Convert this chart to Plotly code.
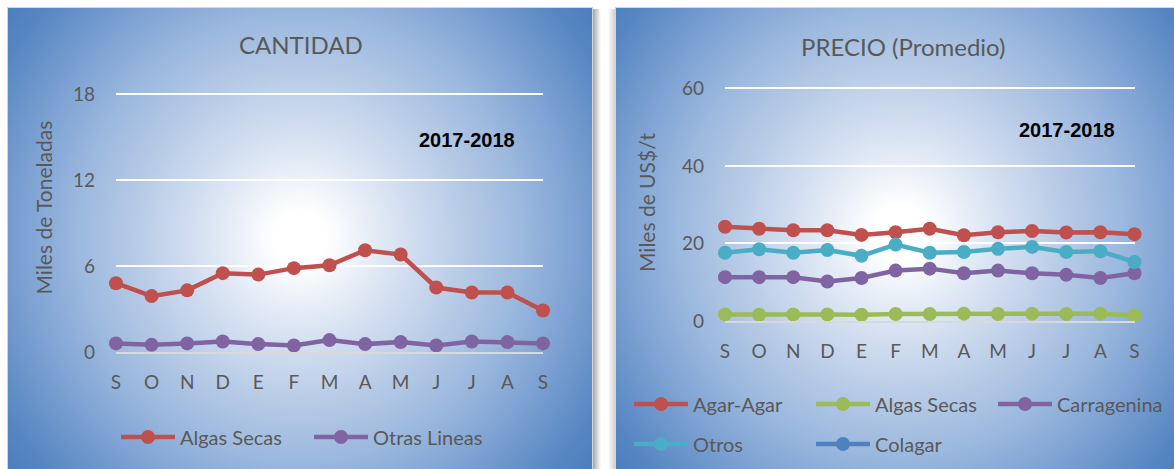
import base64
import plotly.graph_objects as go

W, H = 1174, 469

# ---------------- data ----------------
months = ["S", "O", "N", "D", "E", "F", "M", "A", "M", "J", "J", "A", "S"]

cant_algas_secas = [4.8, 3.9, 4.3, 5.5, 5.4, 5.85, 6.05, 7.1, 6.8, 4.5, 4.15, 4.15, 2.9]
cant_otras_lineas = [0.6, 0.5, 0.6, 0.73, 0.55, 0.45, 0.83, 0.55, 0.69, 0.45, 0.73, 0.69, 0.6]

prec_agar_agar = [24.3, 23.8, 23.4, 23.4, 22.2, 22.9, 23.8, 22.1, 22.9, 23.2, 22.8, 22.9, 22.4]
prec_algas_secas = [1.7, 1.6, 1.7, 1.7, 1.6, 1.8, 1.8, 1.9, 1.8, 1.9, 1.8, 1.9, 1.5]
prec_carragenina = [11.3, 11.3, 11.3, 10.2, 11.1, 13.0, 13.5, 12.3, 13.0, 12.3, 11.9, 11.1, 12.3]
prec_otros = [17.6, 18.5, 17.6, 18.3, 16.8, 19.7, 17.6, 17.8, 18.6, 19.1, 17.8, 18.0, 15.2]
prec_colagar = [None] * 13

yticks_cant = [0, 6, 12, 18]
yticks_prec = [0, 20, 40, 60]

# ---------------- colours / fonts ----------------
RED, PURPLE, GREEN, CYAN, BLUE = "#C0504D", "#8064A2", "#9BBB59", "#4BACC6", "#4F81BD"
TXT = "#595959"
FONT = "Lato"

xs = list(range(len(months)))

# ---------------- background (radial gradients) ----------------
stops = [(0, "#ffffff"), (0.07, "#ffffff"), (0.25, "#dae4f3"), (0.45, "#b6cae6"),
         (0.6, "#9bb8de"), (0.75, "#7ca1d2"), (0.92, "#5686c2"), (1, "#4d7ebd")]
stop_xml = "".join(f"<stop offset='{o}' stop-color='{c}'/>" for o, c in stops)
svg = f"""<svg xmlns='http://www.w3.org/2000/svg' width='{W}' height='{H}' viewBox='0 0 {W} {H}'>
<defs>
<radialGradient id='g1' gradientUnits='userSpaceOnUse' cx='300' cy='238' r='372'>{stop_xml}</radialGradient>
<radialGradient id='g2' gradientUnits='userSpaceOnUse' cx='900' cy='232' r='372'>{stop_xml}</radialGradient>
<linearGradient id='sh' x1='0' x2='1' y1='0' y2='0'><stop offset='0' stop-color='#9a9a9a'/><stop offset='1' stop-color='#ffffff'/></linearGradient>
<linearGradient id='sh2' x1='0' x2='1' y1='0' y2='0'><stop offset='0' stop-color='#ffffff'/><stop offset='1' stop-color='#d0d0d0'/></linearGradient>
</defs>
<rect x='0' y='0' width='{W}' height='{H}' fill='#ffffff'/>
<rect x='592' y='9' width='9' height='470' fill='url(#sh)'/>
<rect x='608' y='9' width='7' height='470' fill='url(#sh2)'/>
<rect x='7.5' y='7.5' width='585' height='475' fill='url(#g1)' stroke='#d4d4d4' stroke-width='1'/>
<rect x='615.5' y='7.5' width='575' height='475' fill='url(#g2)' stroke='#d4d4d4' stroke-width='1'/>
</svg>"""
bg_uri = "data:image/svg+xml;base64," + base64.b64encode(svg.encode()).decode()


def px_x(p):
    return p / W


def px_y(p):
    return 1 - p / H


fig = go.Figure()


def add_line(x, y, name, color, xa, ya, legend):
    fig.add_trace(go.Scatter(
        x=x, y=y, name=name, mode="lines+markers",
        line=dict(color=color, width=4.5),
        marker=dict(color=color, size=14),
        xaxis=xa, yaxis=ya, legend=legend, cliponaxis=False,
        hoverinfo="x+y+name",
    ))


add_line(xs, cant_algas_secas, "Algas Secas", RED, "x", "y", "legend")
add_line(xs, cant_otras_lineas, "Otras Lineas", PURPLE, "x", "y", "legend")

add_line(xs, prec_agar_agar, "Agar-Agar", RED, "x2", "y2", "legend2")
add_line(xs, prec_algas_secas, "Algas Secas", GREEN, "x2", "y2", "legend2")
add_line(xs, prec_carragenina, "Carragenina", PURPLE, "x2", "y2", "legend2")
add_line(xs, prec_otros, "Otros", CYAN, "x2", "y2", "legend3")
add_line(xs, prec_colagar, "Colagar", BLUE, "x2", "y2", "legend3")

xaxis_common = dict(
    range=[0, len(months) - 1], tickvals=xs, ticktext=months,
    showgrid=False, zeroline=False, showline=True, linecolor="#d9d9d9", linewidth=2,
    ticks="", tickfont=dict(family=FONT, size=19, color=TXT), ticklabelstandoff=12,
    fixedrange=True,
)
yaxis_common = dict(
    showgrid=True, gridcolor="#ffffff", gridwidth=1.6, zeroline=False, showline=False,
    ticks="", tickfont=dict(family=FONT, size=19, color=TXT), ticklabelstandoff=20,
    fixedrange=True,
)

legend_common = dict(
    orientation="h", xanchor="left", yanchor="middle", bgcolor="rgba(0,0,0,0)",
    font=dict(family=FONT, size=20, color=TXT), itemwidth=54,
    entrywidthmode="pixels", itemclick=False, itemdoubleclick=False,
)

# y ranges extended by 3 px above the top gridline so that it is drawn
pad = 3
y1_top_px, y1_bot_px = 94, 352
y2_top_px, y2_bot_px = 88.3, 321
y1_max = 18 + pad * 18 / (y1_bot_px - y1_top_px)
y2_max = 60 + pad * 60 / (y2_bot_px - y2_top_px)


def ann(text, x, y, size, family=FONT, color=TXT, angle=0):
    return dict(text=text, x=px_x(x), y=px_y(y), xref="paper", yref="paper",
                xanchor="center", yanchor="middle", showarrow=False, textangle=angle,
                font=dict(family=family, size=size, color=color))


fig.update_layout(
    width=W, height=H,
    margin=dict(l=0, r=0, t=0, b=0, autoexpand=False),
    paper_bgcolor="#ffffff", plot_bgcolor="rgba(0,0,0,0)",
    font=dict(family=FONT, color=TXT),
    xaxis=dict(domain=[px_x(116), px_x(543)], anchor="y", **xaxis_common),
    yaxis=dict(domain=[px_y(y1_bot_px), px_y(y1_top_px - pad)], anchor="x", range=[0, y1_max],
               tickvals=yticks_cant, **yaxis_common),
    xaxis2=dict(domain=[px_x(725), px_x(1134.5)], anchor="y2", **xaxis_common),
    yaxis2=dict(domain=[px_y(y2_bot_px), px_y(y2_top_px - pad)], anchor="x2", range=[0, y2_max],
                tickvals=yticks_prec, **yaxis_common),
    legend=dict(x=px_x(116), y=px_y(437), entrywidth=124, **legend_common),
    legend2=dict(x=px_x(629), y=px_y(404), entrywidth=113, **legend_common),
    legend3=dict(x=px_x(629), y=px_y(444), entrywidth=113, **legend_common),
    images=[dict(source=bg_uri, xref="paper", yref="paper", x=0, y=1, sizex=1, sizey=1,
                 xanchor="left", yanchor="top", sizing="stretch", layer="below")],
    annotations=[
        ann("CANTIDAD", 301, 45, 24),
        ann("PRECIO (Promedio)", 903, 46, 24),
        ann("<b>2017-2018</b>", 467, 139.5, 20, family="Liberation Sans", color="#000000"),
        ann("<b>2017-2018</b>", 1067, 129.5, 20, family="Liberation Sans", color="#000000"),
        ann("Miles de Toneladas", 42.5, 208, 21, angle=-90),
        ann("Miles de US$/t", 647, 203, 21, angle=-90),
    ],
    hovermode="closest",
)

fig.write_html(
    "out.html",
    config={"displayModeBar": False},
    post_script="document.body.style.margin='0px';document.body.style.overflow='hidden';",
)
